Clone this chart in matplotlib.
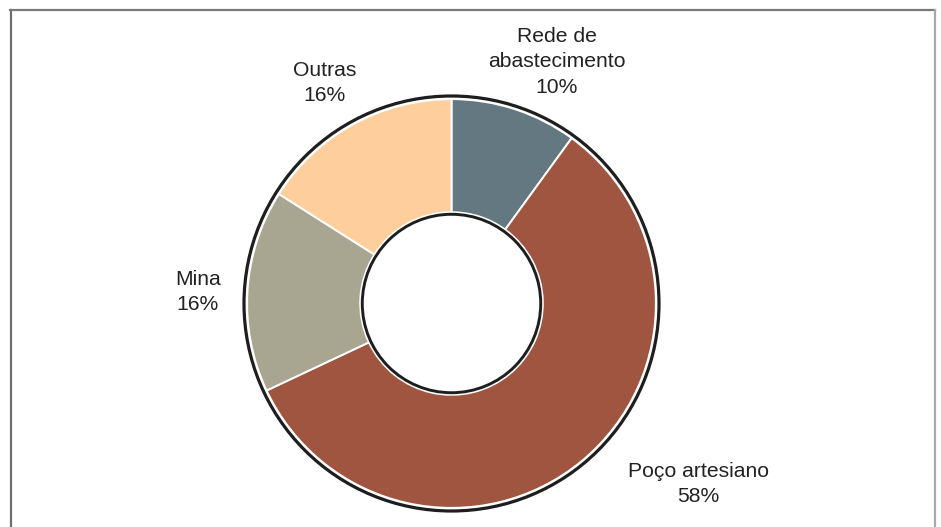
import matplotlib.pyplot as plt
from matplotlib.patches import Circle
from matplotlib.lines import Line2D

plt.rcParams['font.family'] = ['Liberation Sans', 'DejaVu Sans']

# fontes de água
categorias = ['Rede de\nabastecimento', 'Poço artesiano', 'Mina', 'Outras']
percentuais = [10, 58, 16, 16]
cores = ['#637880', '#A05540', '#A8A690', '#FECF9D']
# posição de cada rótulo (raio do anel = 1)
pos_rotulos = [(0.508, 1.164), (1.188, -0.87), (-1.222, 0.055), (-0.61, 1.063)]

W, H = 941, 527
escala = 207.5
cx, cy = 451.5, 303.5

fig = plt.figure(figsize=(W / 100, H / 100), dpi=100)
ax = fig.add_axes([0, 0, 1, 1])

ax.pie(percentuais, colors=cores, startangle=90, counterclock=False,
       radius=0.985,
       wedgeprops=dict(width=0.985 - 0.44, edgecolor='white', linewidth=1.4))

# contornos pretos do anel
ax.add_patch(Circle((0, 0), 1.0, fill=False, edgecolor='#1e1e1e', linewidth=2.3))
ax.add_patch(Circle((0, 0), 0.43, fill=False, edgecolor='#1e1e1e', linewidth=2.1))

for nome, p, (x, y) in zip(categorias, percentuais, pos_rotulos):
    ax.text(x, y, f'{nome}\n{p}%', ha='center', va='center', fontsize=15.2,
            color='#222222', linespacing=1.45)

# pie() redefine os limites, por isso vêm depois
ax.set_xlim(-cx / escala, (W - cx) / escala)
ax.set_ylim(-(H - cy) / escala, cy / escala)
ax.set_aspect('equal', adjustable='box')
ax.axis('off')

# moldura
fig.add_artist(Line2D([10.5 / W, 10.5 / W], [0, 1 - 9.5 / H], color='#6e6e6e', linewidth=1.6))
fig.add_artist(Line2D([10 / W, 935 / W], [1 - 9.5 / H, 1 - 9.5 / H], color='#7a7a7a', linewidth=1.6))
fig.add_artist(Line2D([935 / W, 935 / W], [0, 1 - 9.5 / H], color='#a8a8a8', linewidth=1.6))

fig.savefig('out.png', dpi=100, facecolor='white')
